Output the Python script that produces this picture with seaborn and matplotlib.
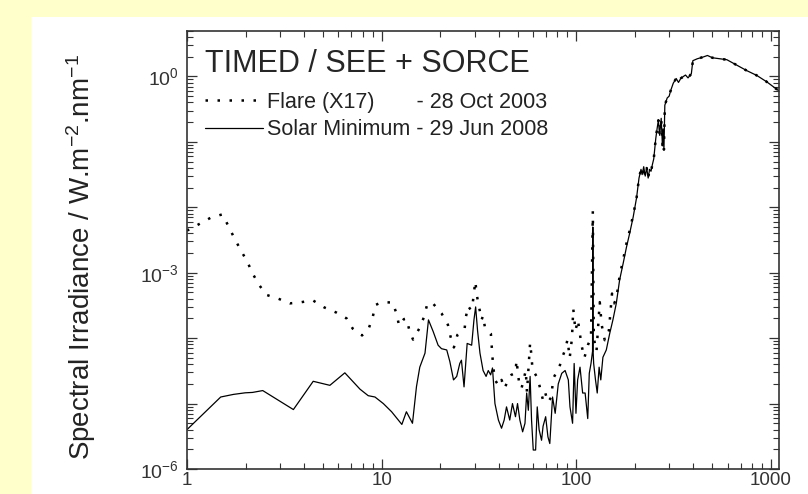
import numpy as np
import pandas as pd
import matplotlib
matplotlib.use("Agg")
import matplotlib.pyplot as plt
import matplotlib.ticker as mticker
from matplotlib.patches import Rectangle
import seaborn as sns

# ---------------- data ----------------
# shared long-wavelength part (both spectra coincide above ~200 nm)
tail_wl = [204, 210, 215, 218, 222, 226, 230, 234, 238, 242, 246, 250, 256, 260,
           264, 268, 273, 277, 279, 282, 285, 293, 300, 305, 308, 315, 320, 326,
           335, 344, 355, 364, 375, 390, 397, 418, 446, 472, 500, 550, 594, 670,
           750, 846, 950, 1060, 1100]
tail_irr = [1.4e-2, 2.8e-2, 3.8e-2, 3.16e-2, 4.17e-2, 3.0e-2, 3.98e-2, 2.8e-2,
            3.8e-2, 3.55e-2, 4.5e-2, 5.5e-2, 0.112, 0.158, 0.214, 0.126, 0.229,
            0.089, 0.158, 0.076, 0.363, 0.468, 0.50, 0.60, 0.65, 0.79, 0.85, 0.93,
            0.81, 0.93, 1.0, 1.05, 0.95, 1.10, 1.74, 1.86, 1.97, 2.09, 1.93, 1.86,
            1.80, 1.48, 1.23, 1.035, 0.83, 0.65, 0.60]

# Solar minimum - 29 Jun 2008 (short-wavelength part)
min_wl = [1.00, 1.49, 1.73, 1.99, 2.17, 2.45, 3.52, 4.45, 5.42, 6.47, 7.74, 8.53,
          9.24, 10.2, 11.25, 12.7, 13.4, 14.4, 15.1, 15.7, 16.7, 17.4, 18.4, 19.5,
          20.3, 21.6, 22.4, 23.4, 24.3, 25.2, 25.7, 26.5, 27.5, 29.0, 29.8, 30.4,
          31.1, 32.0, 33.2, 34.4, 35.3, 36.3, 37.1, 38.2, 39.8, 41.3, 42.6, 43.8,
          45.5, 47.0, 48.7, 49.9, 51.3, 53.0, 54.5, 55.6, 56.7, 57.9, 58.9, 60.1,
          61.8, 63.0, 64.4, 66.3, 67.5, 69.6, 71.5, 73.1, 75.5, 77.9, 80.8, 84.2,
          87.6, 91.0, 92.8, 95.7, 97.5, 99.6, 101.6, 104.5, 107.8, 111.0, 114.5,
          116.6, 119.0, 121.2, 121.6, 122.0, 122.8, 125.5, 128.1, 131.0, 133.6,
          137.0, 142.6, 148.4, 154.2, 160.5, 167.0, 174.0, 181.0, 188.0, 196.0]
min_irr = [4.0e-6, 1.26e-5, 1.38e-5, 1.46e-5, 1.48e-5, 1.58e-5, 8.1e-6, 2.19e-5,
           1.9e-5, 2.95e-5, 1.66e-5, 1.32e-5, 1.26e-5, 1.0e-5, 7.5e-6, 4.8e-6,
           7.5e-6, 5.0e-6, 1.82e-5, 3.6e-5, 5.9e-5, 1.9e-4, 1.26e-4, 7.8e-5,
           6.9e-5, 6.6e-5, 4.4e-5, 2.3e-5, 2.6e-5, 4.1e-5, 4.6e-5, 1.8e-5, 8.3e-5,
           7.8e-5, 1.9e-4, 3.0e-4, 1.3e-4, 5.9e-5, 3.2e-5, 2.6e-5, 3.2e-5, 2.75e-5,
           3.5e-5, 1.0e-5, 5.6e-6, 4.2e-6, 5.6e-6, 8.9e-6, 5.6e-6, 1.0e-5, 6.3e-6,
           1.0e-5, 5.6e-6, 3.7e-6, 5.0e-6, 1.45e-5, 7.9e-6, 2.6e-5, 5.6e-6, 1.95e-6,
           1.95e-6, 8.9e-6, 4.0e-6, 2.75e-6, 4.5e-6, 6.3e-6, 3.1e-6, 2.45e-6,
           1.26e-5, 7.1e-6, 2.0e-5, 2.9e-5, 3.2e-5, 2.3e-5, 8.9e-6, 5.0e-6, 4.1e-5,
           7.1e-6, 2.3e-5, 3.6e-5, 1.45e-5, 1.45e-5, 5.9e-6, 2.9e-5, 4.1e-5, 6.3e-5,
           5.0e-3, 6.3e-5, 4.1e-5, 2.3e-5, 1.45e-5, 3.6e-5, 2.3e-5, 5.1e-5, 6.6e-5,
           1.17e-4, 1.9e-4, 3.4e-4, 7.8e-4, 1.38e-3, 2.45e-3, 4.0e-3, 7.1e-3]

# Flare (X17) - 28 Oct 2003 (short-wavelength part)
flare_wl = [1.00, 1.15, 1.32, 1.52, 1.63, 1.74, 1.89, 2.04, 2.17, 2.34, 2.55, 2.95,
            3.38, 3.88, 4.42, 5.07, 5.87, 6.61, 7.10, 7.93, 8.58, 9.00, 9.28, 10.0,
            11.4, 11.9, 12.3, 13.0, 13.4, 13.9, 14.5, 15.6, 16.5, 17.1, 18.1, 20.3,
            21.9, 22.6, 23.5, 24.5, 25.7, 26.7, 27.0, 27.8, 28.7, 29.3, 29.8, 30.3,
            30.8, 32.6, 33.2, 33.9, 36.4, 37.1, 37.5, 38.2, 40.0, 41.3, 42.8, 44.6,
            46.4, 48.7, 49.3, 50.8, 52.3, 55.0, 55.8, 57.9, 58.8, 59.4, 61.2, 63.5,
            65.2, 67.5, 69.3, 71.5, 74.5, 76.0, 78.6, 81.7, 83.8, 87.6, 90.1, 92.5,
            95.0, 96.5, 97.7, 99.0, 101.9, 104.5, 106.8, 110.0, 115.0, 119.0, 121.6,
            123.0, 127.0, 132.0, 135.0, 140.0, 147.0, 152.6, 156.5, 160.5, 167.0,
            174.0, 181.0, 188.0, 196.0]
flare_irr = [4.4e-3, 5.5e-3, 6.9e-3, 7.8e-3, 5.2e-3, 3.5e-3, 2.2e-3, 1.48e-3,
             9.8e-4, 6.6e-4, 4.6e-4, 4.0e-4, 3.4e-4, 3.55e-4, 3.8e-4, 2.95e-4,
             2.45e-4, 2.0e-4, 1.4e-4, 1.1e-4, 1.4e-4, 2.1e-4, 3.2e-4, 3.55e-4,
             3.5e-4, 2.4e-4, 1.55e-4, 1.95e-4, 2.0e-4, 1.3e-4, 9.5e-5, 1.4e-4,
             2.1e-4, 3.2e-4, 3.55e-4, 2.4e-4, 1.6e-4, 1.05e-4, 7.2e-5, 1.12e-4,
             1.3e-4, 1.4e-4, 2.0e-4, 3.1e-4, 2.7e-4, 3.2e-4, 5.0e-4, 7.4e-4, 4.6e-4,
             1.9e-4, 2.2e-4, 1.48e-4, 1.17e-4, 5.1e-5, 3.5e-5, 2.3e-5, 1.86e-5,
             2.3e-5, 1.7e-5, 2.3e-5, 2.75e-5, 2.95e-5, 4.6e-5, 2.1e-5, 1.7e-5,
             3.2e-5, 1.5e-5, 8.5e-5, 5.5e-5, 3.7e-5, 2.9e-5, 2.4e-5, 1.7e-5,
             1.12e-5, 1.45e-5, 1.05e-5, 1.26e-5, 2.4e-5, 2.9e-5, 3.5e-5, 4.7e-5,
             6.6e-5, 9.5e-5, 5.0e-5, 1.0e-4, 2.8e-4, 1.9e-4, 1.3e-4, 1.9e-4,
             1.12e-4, 7.4e-5, 5.0e-5, 8.0e-5, 1.0e-4, 8.7e-3, 1.0e-4, 6.3e-5,
             3.55e-4, 1.6e-4, 9.3e-5, 1.3e-4, 4.8e-4, 3.4e-4, 4.0e-4, 8.9e-4,
             1.58e-3, 2.8e-3, 4.4e-3, 7.6e-3]

title_text = "TIMED / SEE + SORCE"
flare_label = "Flare (X17)       - 28 Oct 2003"
min_label = "Solar Minimum - 29 Jun 2008"
x_ticks = [1, 10, 100, 1000]
x_ticklabels = ["1", "10", "100", "1000"]

# ---------------- style ----------------
sns.set_style("ticks")
plt.rcParams["font.family"] = ["Liberation Sans", "DejaVu Sans"]
plt.rcParams["mathtext.fontset"] = "custom"
plt.rcParams["mathtext.rm"] = "Liberation Sans"
plt.rcParams["mathtext.it"] = "Liberation Sans:italic"
plt.rcParams["mathtext.bf"] = "Liberation Sans:bold"
plt.rcParams["axes.unicode_minus"] = False

W, H = 808, 494
fig = plt.figure(figsize=(W / 100, H / 100), dpi=100, facecolor="#FFFFCC")
fig.patches.append(Rectangle((31 / W, 0), 1, 1 - 17 / H, transform=fig.transFigure,
                             facecolor="white", edgecolor="none", zorder=-10))

left, right, bottom, top = 187 / W, 779 / W, 1 - 469 / H, 1 - 30.7 / H
ax = fig.add_axes([left, bottom, right - left, top - bottom])
ax.set_facecolor("white")

flare_df = pd.DataFrame({"wl": flare_wl + tail_wl, "irr": flare_irr + tail_irr})
min_df = pd.DataFrame({"wl": min_wl + tail_wl, "irr": min_irr + tail_irr})

sns.lineplot(data=flare_df, x="wl", y="irr", ax=ax, sort=False, estimator=None,
             color="black", linewidth=1.8, linestyle=(0, (1, 3.8)), label=flare_label)
sns.lineplot(data=min_df, x="wl", y="irr", ax=ax, sort=False, estimator=None,
             color="black", linewidth=0.9, label=min_label)

ax.set_xscale("log")
ax.set_yscale("log")
ax.set_xlim(1, 1100)
ax.set_ylim(1e-6, 5.0)

ax.xaxis.set_major_locator(mticker.FixedLocator(x_ticks))
ax.xaxis.set_major_formatter(mticker.FixedFormatter(x_ticklabels))
ax.xaxis.set_minor_locator(mticker.LogLocator(base=10, subs=np.arange(2, 10), numticks=20))
ax.xaxis.set_minor_formatter(mticker.NullFormatter())

ax.yaxis.set_major_locator(mticker.LogLocator(base=10, numticks=20))
def yfmt(v, pos):
    e = int(round(np.log10(v)))
    return r"$10^{%d}$" % e if e % 3 == 0 else ""
ax.yaxis.set_major_formatter(mticker.FuncFormatter(yfmt))
ax.yaxis.set_minor_locator(mticker.LogLocator(base=10, subs=np.arange(2, 10), numticks=20))
ax.yaxis.set_minor_formatter(mticker.NullFormatter())

ax.tick_params(which="both", direction="in", top=True, right=True,
               color="#333333", labelcolor="#333333")
ax.tick_params(which="major", length=7, width=0.9, pad=6)
ax.tick_params(which="minor", length=4, width=0.8)
ax.tick_params(axis="x", which="major", labelsize=13.5, pad=2.5)
ax.tick_params(axis="y", which="major", labelsize=14)
for s in ax.spines.values():
    s.set_color("#333333")
    s.set_linewidth(1.2)

ax.set_xlabel("")
ax.set_ylabel(r"Spectral Irradiance / W.m$^{-2}$.nm$^{-1}$", fontsize=20, color="#222222")
ax.yaxis.set_label_coords(-0.150, 0.484)

leg = ax.legend(title=title_text, loc="upper left", bbox_to_anchor=(0.03, 0.958),
                frameon=False, fontsize=15.5, title_fontsize=22, alignment="left",
                handlelength=2.7, handletextpad=0.2, borderpad=0, borderaxespad=0,
                labelspacing=0.3)
try:
    leg._legend_box.sep = 9
except Exception:
    pass
for t in leg.get_texts():
    t.set_color("#222222")

fig.savefig("out.png", dpi=100, facecolor=fig.get_facecolor())
